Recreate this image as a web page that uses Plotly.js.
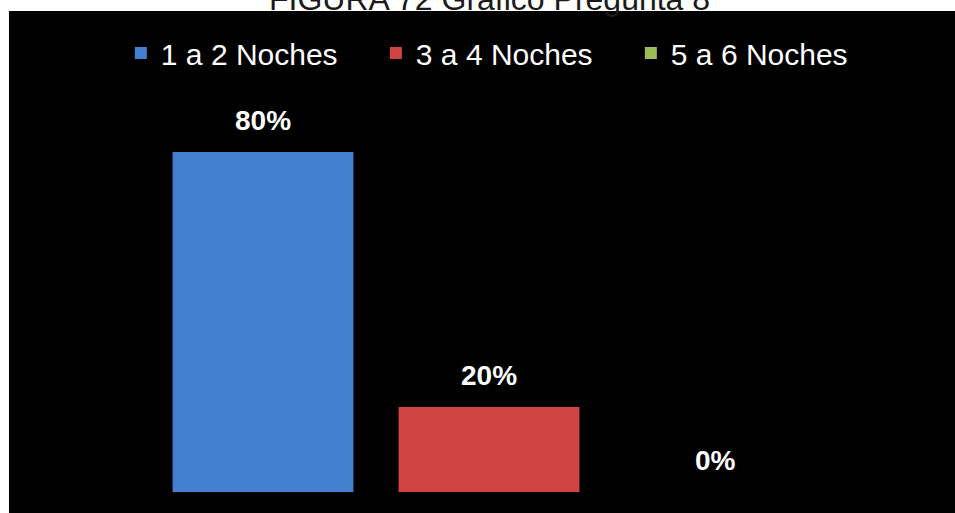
<!DOCTYPE html>
<html>
<head>
<meta charset="utf-8">
<script src="https://cdn.plot.ly/plotly-3.0.1.min.js"></script>
<style>
  html, body { margin: 0; padding: 0; background: #ffffff; }
  #chart { width: 955px; height: 513px; }
</style>
</head>
<body>
<div id="chart"></div>
<script>
const categories = ["1 a 2 Noches", "3 a 4 Noches", "5 a 6 Noches"];
const values = [80, 20, 0];
const valueLabels = ["80%", "20%", "0%"];
const barColors = ["#4381d0", "#d04542", "#9bbb59"];
const chartTitle = "FIGURA 72 Gráfico Pregunta 8";

const FONT = "Liberation Sans, Arial, sans-serif";

const traces = categories.map((c, i) => ({
  type: "bar",
  name: c,
  x: [c],
  y: [values[i]],
  marker: { color: barColors[i], line: { width: 0 } },
  hoverinfo: "skip"
}));

const annotations = categories.map((c, i) => ({
  x: c,
  y: values[i],
  xref: "x",
  yref: "y",
  text: "<b>" + valueLabels[i] + "</b>",
  showarrow: false,
  yanchor: "bottom",
  yshift: 14,
  font: { family: FONT, size: 28, color: "#ffffff" }
}));

annotations.push({
  xref: "paper", yref: "paper",
  x: 0.5, y: 1.112,
  xanchor: "center", yanchor: "bottom",
  text: chartTitle,
  showarrow: false,
  font: { family: FONT, size: 32, color: "#1a1a1a" }
});

const layout = {
  width: 955,
  height: 513,
  margin: { l: 150, r: 127, t: 67, b: 21 },
  paper_bgcolor: "#ffffff",
  plot_bgcolor: "rgba(0,0,0,0)",
  barmode: "overlay",
  bargap: 0.2,
  showlegend: true,
  legend: {
    orientation: "h",
    x: -0.043, xanchor: "left",
    y: 1.033, yanchor: "middle",
    entrywidth: 210,
    entrywidthmode: "pixels",
    font: { family: FONT, size: 30, color: "#ffffff" },
    bgcolor: "rgba(0,0,0,0)"
  },
  xaxis: { type: "category", range: [-0.5, 2.5], visible: false, fixedrange: true },
  yaxis: { range: [0, 100], visible: false, fixedrange: true },
  shapes: [{
    type: "rect", xref: "paper", yref: "paper", layer: "below",
    x0: -0.208, x1: 1.25, y0: -0.08, y1: 1.1318,
    fillcolor: "#000000", line: { width: 0 }
  }],
  annotations: annotations
};

Plotly.newPlot("chart", traces, layout, { displayModeBar: false, staticPlot: true });
</script>
</body>
</html>
